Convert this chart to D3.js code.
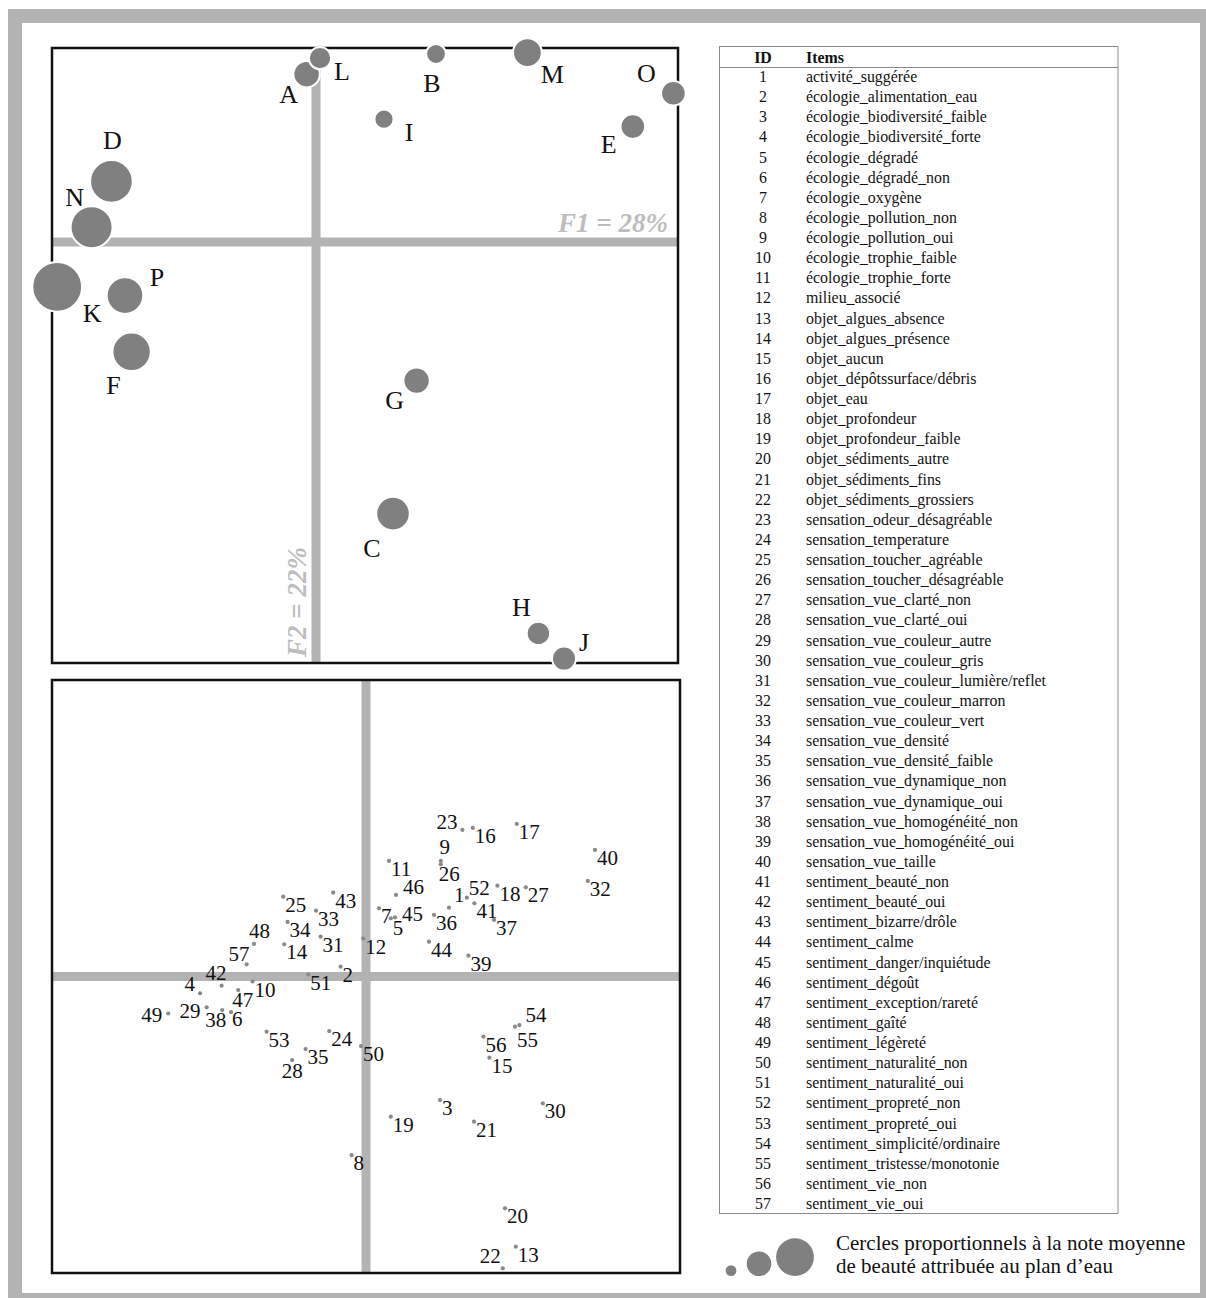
<!DOCTYPE html>
<html>
<head>
<meta charset="utf-8">
<script src="https://cdn.jsdelivr.net/npm/d3@7"></script>
<style>
  html, body { margin: 0; padding: 0; background: #fff; }
  svg { display: block; }
  text { font-family: "Liberation Serif", "Times New Roman", serif; }
</style>
</head>
<body>
<svg id="chart" width="1206" height="1298"></svg>
<script>
// ---- Plans d'eau (individus) : coordonnées F1 / F2 et note moyenne de beauté ----
const siteIds   = ["A", "L", "B", "M", "O", "I", "E", "D", "N", "K", "P", "F", "G", "C", "H", "J"];
const siteF1    = [-0.047, 0.020, 0.600, 1.057, 1.787, 0.340, 1.584, -1.023, -1.122, -1.294, -0.955, -0.922, 0.503, 0.385, 1.112, 1.240];
const siteF2    = [0.839, 0.919, 0.940, 0.947, 0.744, 0.614, 0.577, 0.303, 0.074, -0.224, -0.268, -0.549, -0.693, -1.358, -1.957, -2.083];
const siteNote  = [4.4, 3.7, 3.3, 4.8, 4.1, 3.2, 4.1, 7.1, 7.0, 8.3, 6.1, 6.4, 4.4, 5.6, 3.9, 4.0];

// ---- Items (variables) : identifiants, libellés, coordonnées F1 / F2 ----
const itemIds = d3.range(1, 58);
const itemLabels = [
  "activité_suggérée", "écologie_alimentation_eau", "écologie_biodiversité_faible",
  "écologie_biodiversité_forte", "écologie_dégradé", "écologie_dégradé_non",
  "écologie_oxygène", "écologie_pollution_non", "écologie_pollution_oui",
  "écologie_trophie_faible", "écologie_trophie_forte", "milieu_associé",
  "objet_algues_absence", "objet_algues_présence", "objet_aucun",
  "objet_dépôtssurface/débris", "objet_eau", "objet_profondeur",
  "objet_profondeur_faible", "objet_sédiments_autre", "objet_sédiments_fins",
  "objet_sédiments_grossiers", "sensation_odeur_désagréable", "sensation_temperature",
  "sensation_toucher_agréable", "sensation_toucher_désagréable", "sensation_vue_clarté_non",
  "sensation_vue_clarté_oui", "sensation_vue_couleur_autre", "sensation_vue_couleur_gris",
  "sensation_vue_couleur_lumière/reflet", "sensation_vue_couleur_marron", "sensation_vue_couleur_vert",
  "sensation_vue_densité", "sensation_vue_densité_faible", "sensation_vue_dynamique_non",
  "sensation_vue_dynamique_oui", "sensation_vue_homogénéité_non", "sensation_vue_homogénéité_oui",
  "sensation_vue_taille", "sentiment_beauté_non", "sentiment_beauté_oui",
  "sentiment_bizarre/drôle", "sentiment_calme", "sentiment_danger/inquiétude",
  "sentiment_dégoût", "sentiment_exception/rareté", "sentiment_gaîté",
  "sentiment_légèreté", "sentiment_naturalité_non", "sentiment_naturalité_oui",
  "sentiment_propreté_non", "sentiment_propreté_oui", "sentiment_simplicité/ordinaire",
  "sentiment_tristesse/monotonie", "sentiment_vie_non", "sentiment_vie_oui"
];
const itemF1 = [
  0.415, -0.127, 0.370, -0.830, 0.124, -0.675, 0.065, -0.072, 0.374, -0.567,
  0.115, -0.014, 0.749, -0.409, 0.617, 0.534, 0.754, 0.657, 0.124, 0.695,
  0.540, 0.684, 0.482, -0.184, -0.414, 0.374, 0.799, -0.369, -0.797, 0.884,
  -0.227, 1.109, -0.250, -0.392, -0.302, 0.340, 0.640, -0.719, 0.512, 1.145,
  0.542, -0.722, -0.164, 0.315, 0.145, 0.150, -0.639, -0.560, -0.989, -0.025,
  -0.289, 0.504, -0.497, 0.767, 0.745, 0.587, -0.597
];
const itemF2 = [
  0.344, 0.049, -0.618, -0.084, 0.291, -0.178, 0.341, -0.893, 0.578, -0.025,
  0.578, 0.190, -1.351, 0.161, -0.406, 0.743, 0.763, 0.454, -0.701, -1.159,
  -0.726, -1.459, 0.733, -0.273, 0.399, 0.561, 0.446, -0.418, -0.154, -0.634,
  0.199, 0.478, 0.329, 0.273, -0.363, 0.308, 0.283, -0.168, 0.104, 0.633,
  0.366, -0.046, 0.419, 0.174, 0.296, 0.408, -0.068, 0.163, -0.185, -0.348,
  0.010, 0.394, -0.276, -0.243, -0.251, -0.301, 0.061
];

// Inertie des axes
const axisF1 = "F1 = 28%";
const axisF2 = "F2 = 22%";

// Légende : notes illustratives et texte
const legendNotes = [1.8, 4.1, 6.3];
const legendText = ["Cercles proportionnels à la note moyenne", "de beauté attribuée au plan d\u2019eau"];
const tableHeader = ["ID", "Items"];

// ---- Mise en page ----
const GRAY_AXIS = "#b3b3b3";
const DOT = "#808080";

// Placement des étiquettes des plans d'eau : décalage (centre, ligne de base) par rapport au cercle
const siteLabelOffset = {
  A: [-18, 29], L: [22, 22], B: [-4, 38], M: [25, 30], O: [-27, -11], I: [25, 22],
  E: [-24, 26], D: [1, -32], N: [-17, -21], K: [35, 35], P: [32, -10], F: [-18, 42],
  G: [-22, 28], C: [-21, 43], H: [-17, -17], J: [20, -8]
};
// Placement des étiquettes d'items : [dx, dy, ancrage]; par défaut en bas à droite du point
const itemLabelDefault = [2, 15, "start"];
const itemLabelOffset = {
  48: [-5, -6, "start"], 57: [3, -3, "end"], 42: [-16, -6, "start"], 4: [-5, -2, "end"],
  47: [-6, 17, "start"], 49: [-6, 8, "end"], 29: [-6, 11, "end"], 38: [4, 17, "end"],
  6: [1, 14, "start"], 28: [0, 18, "middle"], 23: [-5, -1, "end"], 9: [4, -7, "middle"],
  26: [-2, 17, "start"], 46: [7, -1, "start"], 1: [5, -6, "start"], 52: [2, -3, "start"],
  45: [7, 4, "start"], 54: [6, -3, "start"], 55: [2, 20, "start"], 22: [-2, -5, "end"],
  5: [2, 17, "start"]
};

const svg = d3.select("#chart");

// Cadre gris extérieur
svg.append("rect").attr("x", 8).attr("y", 9).attr("width", 1206).attr("height", 1298).attr("fill", GRAY_AXIS);
svg.append("rect").attr("x", 22).attr("y", 23).attr("width", 1178).attr("height", 1270).attr("fill", "#fff");

// ===== Panneau du haut : plans d'eau =====
const topX = d3.scaleLinear().domain([-1.32, 1.81]).range([52, 678]);
const topY = d3.scaleLinear().domain([-2.105, 0.97]).range([663, 48]);
const rScale = d3.scaleLinear().domain([0, 10]).range([0, 30]);

const sitePanel = svg.append("g");
sitePanel.append("line")
  .attr("x1", topX.range()[0]).attr("x2", topX.range()[1])
  .attr("y1", topY(0)).attr("y2", topY(0))
  .attr("stroke", GRAY_AXIS).attr("stroke-width", 9);
sitePanel.append("line")
  .attr("x1", topX(0)).attr("x2", topX(0))
  .attr("y1", topY.range()[1]).attr("y2", topY.range()[0])
  .attr("stroke", GRAY_AXIS).attr("stroke-width", 9);

sitePanel.append("text")
  .attr("x", topX.range()[1] - 10).attr("y", topY(0) - 10)
  .attr("text-anchor", "end")
  .attr("font-size", 27).attr("font-weight", "bold").attr("font-style", "italic")
  .attr("fill", "#bdbdbd")
  .text(axisF1);
sitePanel.append("text")
  .attr("transform", `translate(${topX(0) - 10},${topY.range()[0] - 6}) rotate(-90)`)
  .attr("text-anchor", "start")
  .attr("font-size", 27).attr("font-weight", "bold").attr("font-style", "italic")
  .attr("fill", "#bdbdbd")
  .text(axisF2);

sitePanel.append("rect")
  .attr("x", 52).attr("y", 48)
  .attr("width", topX.range()[1] - 52).attr("height", 663 - 48)
  .attr("fill", "none").attr("stroke", "#111").attr("stroke-width", 2.5);

const sites = siteIds.map((id, i) => ({ id, f1: siteF1[i], f2: siteF2[i], note: siteNote[i] }));

sitePanel.selectAll("circle.site").data(sites).join("circle")
  .attr("class", "site")
  .attr("cx", d => topX(d.f1)).attr("cy", d => topY(d.f2))
  .attr("r", d => rScale(d.note))
  .attr("fill", DOT).attr("stroke", "#fff").attr("stroke-width", 2);

sitePanel.selectAll("text.site").data(sites).join("text")
  .attr("class", "site")
  .attr("x", d => topX(d.f1) + siteLabelOffset[d.id][0])
  .attr("y", d => topY(d.f2) + siteLabelOffset[d.id][1])
  .attr("text-anchor", "middle")
  .attr("font-size", 26).attr("fill", "#111")
  .text(d => d.id);

// ===== Panneau du bas : items =====
const botX = d3.scaleLinear().domain([-1.57, 1.57]).range([52, 680]);
const botY = d3.scaleLinear().domain([-1.4825, 1.4825]).range([1273, 680]);

const itemPanel = svg.append("g");
itemPanel.append("line")
  .attr("x1", botX.range()[0]).attr("x2", botX.range()[1])
  .attr("y1", botY(0)).attr("y2", botY(0))
  .attr("stroke", GRAY_AXIS).attr("stroke-width", 9);
itemPanel.append("line")
  .attr("x1", botX(0)).attr("x2", botX(0))
  .attr("y1", botY.range()[1]).attr("y2", botY.range()[0])
  .attr("stroke", GRAY_AXIS).attr("stroke-width", 9);
itemPanel.append("rect")
  .attr("x", botX.range()[0]).attr("y", botY.range()[1])
  .attr("width", botX.range()[1] - botX.range()[0]).attr("height", botY.range()[0] - botY.range()[1])
  .attr("fill", "none").attr("stroke", "#111").attr("stroke-width", 2.5);

const items = itemIds.map((id, i) => ({ id, f1: itemF1[i], f2: itemF2[i] }));

itemPanel.selectAll("circle.item").data(items).join("circle")
  .attr("class", "item")
  .attr("cx", d => botX(d.f1)).attr("cy", d => botY(d.f2))
  .attr("r", 2.1).attr("fill", "#8a8a8a");

itemPanel.selectAll("text.item").data(items).join("text")
  .attr("class", "item")
  .each(function (d) {
    const o = itemLabelOffset[d.id] || itemLabelDefault;
    d3.select(this)
      .attr("x", botX(d.f1) + o[0])
      .attr("y", botY(d.f2) + o[1])
      .attr("text-anchor", o[2]);
  })
  .attr("font-size", 21).attr("fill", "#111")
  .text(d => d.id);

// ===== Tableau des items =====
const tbl = svg.append("g");
const tblLeft = 719.5, tblRight = 1118, tblTop = 46.5, tblBottom = 1213.5;
const rowY = d3.scaleLinear().domain([1, 57]).range([82, 1209]);
const TABLE_FONT = 15.9;

tbl.append("rect")
  .attr("x", tblLeft).attr("y", tblTop)
  .attr("width", tblRight - tblLeft).attr("height", tblBottom - tblTop)
  .attr("fill", "none").attr("stroke", "#8a8a8a").attr("stroke-width", 1);
tbl.append("line")
  .attr("x1", tblLeft).attr("x2", tblRight).attr("y1", 67.5).attr("y2", 67.5)
  .attr("stroke", "#8a8a8a").attr("stroke-width", 1);

tbl.append("text").attr("x", 763).attr("y", 63).attr("text-anchor", "middle")
  .attr("font-size", TABLE_FONT).attr("font-weight", "bold").attr("fill", "#111").text(tableHeader[0]);
tbl.append("text").attr("x", 806).attr("y", 63)
  .attr("font-size", TABLE_FONT).attr("font-weight", "bold").attr("fill", "#111").text(tableHeader[1]);

tbl.selectAll("text.id").data(items).join("text")
  .attr("class", "id")
  .attr("x", 763).attr("y", d => rowY(d.id))
  .attr("text-anchor", "middle").attr("font-size", TABLE_FONT).attr("fill", "#111")
  .text(d => d.id);
tbl.selectAll("text.lbl").data(items).join("text")
  .attr("class", "lbl")
  .attr("x", 806).attr("y", d => rowY(d.id))
  .attr("font-size", TABLE_FONT).attr("fill", "#111")
  .text(d => itemLabels[d.id - 1]);

// ===== Légende =====
const leg = svg.append("g");
const legendCx = [731, 759, 795];
const legendBase = 1276;
leg.selectAll("circle").data(legendNotes).join("circle")
  .attr("cx", (d, i) => legendCx[i])
  .attr("cy", d => legendBase - rScale(d))
  .attr("r", d => rScale(d))
  .attr("fill", DOT);
leg.selectAll("text").data(legendText).join("text")
  .attr("x", 836).attr("y", (d, i) => 1250 + i * 23)
  .attr("font-size", 21).attr("fill", "#111")
  .text(d => d);
</script>
</body>
</html>
